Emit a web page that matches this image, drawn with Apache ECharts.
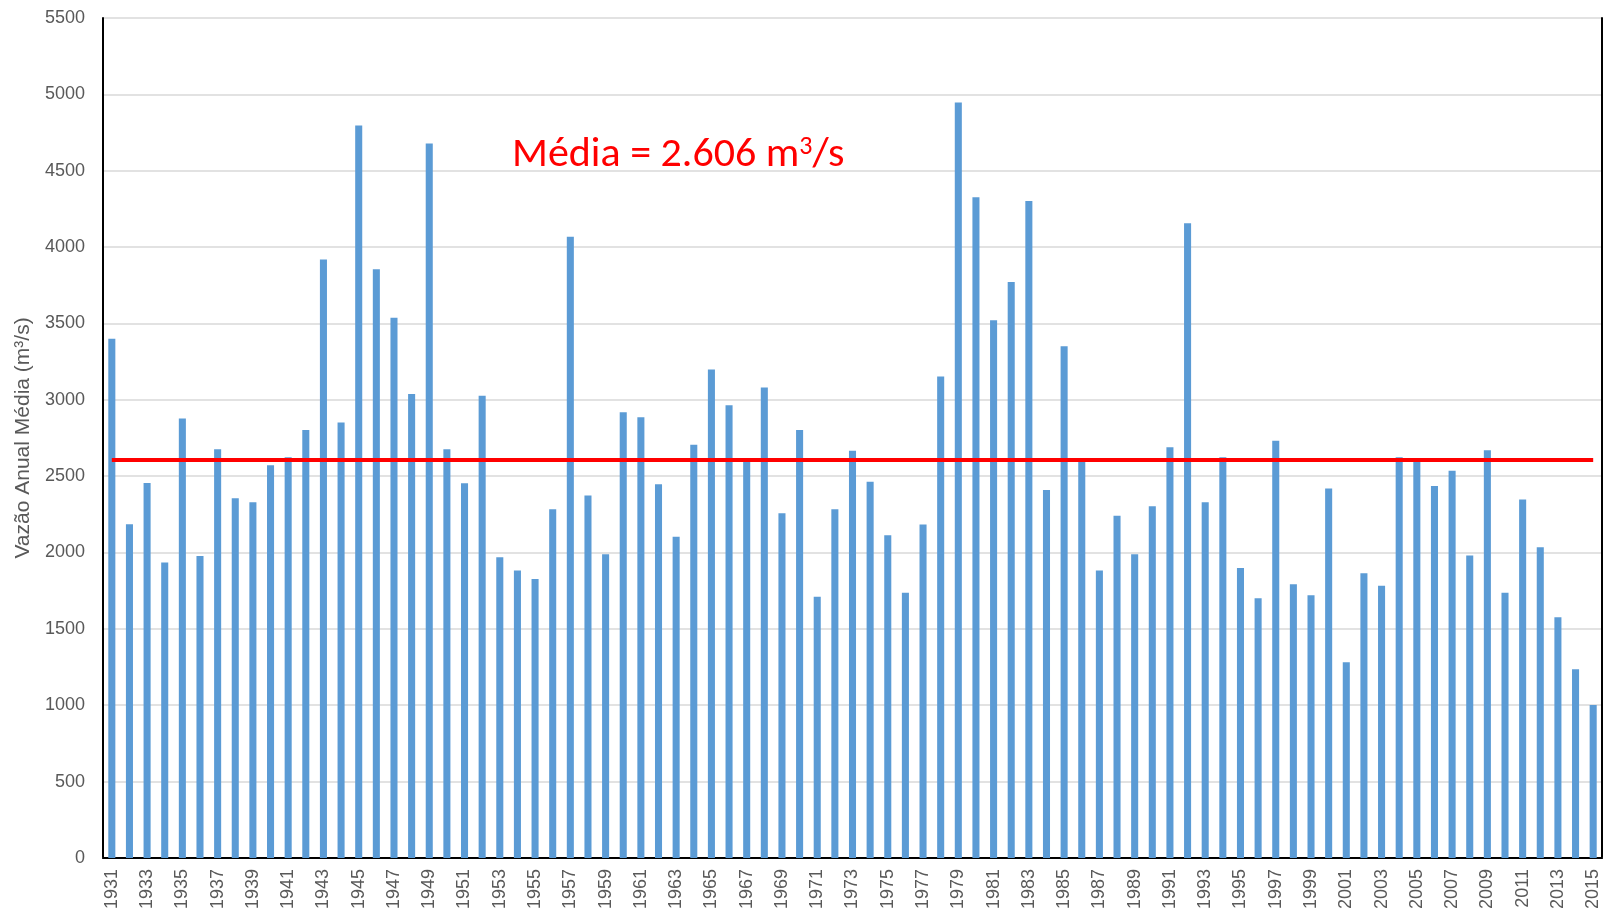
<!DOCTYPE html>
<html>
<head>
<meta charset="utf-8">
<script src="https://cdn.jsdelivr.net/npm/echarts@6/dist/echarts.min.js"></script>
<style>
  html,body{margin:0;padding:0;background:#fff;}
  #chart{width:1605px;height:912px;}
</style>
</head>
<body>
<div id="chart"></div>
<script>
// years on the x axis
let years=[]
for(let y=1931;y<=2015;y++) years.push(String(y))

// annual mean flow (m3/s)
let flow=[
  3400,2185,2455,1935,2877,1978,2676,2356,2329,2572,
  2624,2803,3918,2851,4796,3855,3538,3038,4678,2676,
  2454,3027,1969,1882,1827,2284,4067,2373,1989,2919,
  2886,2447,2104,2705,3198,2964,2596,3080,2257,2803,
  1711,2284,2667,2464,2113,1737,2183,3152,4946,4327,
  3521,3772,4301,2410,3351,2598,1882,2240,1989,2303,
  2690,4156,2329,2624,1899,1701,2732,1792,1720,2419,
  1281,1864,1783,2624,2602,2436,2536,1980,2670,1737,
  2347,2035,1576,1236,1002
]

let mean=2606
let yTicks={min:0,max:5500,interval:500}

let createChart=(id)=>{
    let chart=echarts.init(document.getElementById(id),null,{renderer:"canvas"})
    let option={
        animation:false,
        backgroundColor:"#fff",
        grid:{left:103,right:3,top:18,bottom:54},
        xAxis:[{
            type:"category",
            data:years,
            axisTick:{show:false},
            axisLine:{lineStyle:{color:"#d9d9d9",width:1.5}},
            axisLabel:{
                interval:1,
                rotate:90,
                color:"#595959",
                fontFamily:"Liberation Sans",
                fontSize:18,
                margin:11
            }
        },{
            type:"category",
            data:years,
            position:"top",
            axisTick:{show:false},
            axisLabel:{show:false},
            axisLine:{lineStyle:{color:"#000",width:2}}
        }],
        yAxis:[{
            type:"value",
            min:yTicks.min,max:yTicks.max,interval:yTicks.interval,
            name:"Vazão Anual Média (m³/s)",
            nameLocation:"middle",
            nameGap:69,
            nameTextStyle:{color:"#595959",fontSize:21,fontFamily:"Liberation Sans"},
            axisLine:{show:true,lineStyle:{color:"#000",width:2}},
            axisTick:{show:false},
            axisLabel:{
                color:"#595959",fontSize:18,fontFamily:"Liberation Sans",margin:18,
                formatter:v=>String(v)
            },
            splitLine:{lineStyle:{color:"#d9d9d9",width:1.5}}
        },{
            type:"value",
            min:yTicks.min,max:yTicks.max,interval:yTicks.interval,
            position:"right",
            axisLine:{show:true,lineStyle:{color:"#000",width:2}},
            axisTick:{show:false},
            axisLabel:{show:false},
            splitLine:{show:false}
        }],
        series:[{
            type:"bar",
            data:flow,
            barWidth:"40%",
            itemStyle:{color:"#5b9bd5"},
            markLine:{
                silent:true,
                symbol:["none","none"],
                label:{show:false},
                lineStyle:{color:"#ff0000",width:4,type:"solid"},
                data:[[{coord:[years[0],mean]},{coord:[years[years.length-1],mean]}]]
            }
        }],
        graphic:[{
            type:"text",
            left:512,
            top:134,
            style:{
                text:"{a|Média = 2.606 m}{s|3}{a|/s}",
                rich:{
                    a:{fontSize:42,fontFamily:"Carlito, Liberation Sans",fill:"#ff0000",color:"#ff0000"},
                    s:{fontSize:26,fontFamily:"Carlito, Liberation Sans",fill:"#ff0000",color:"#ff0000",verticalAlign:"top",padding:[0,0,16,0]}
                }
            }
        }]
    }
    chart.setOption(option)
}

createChart("chart")
</script>
</body>
</html>
